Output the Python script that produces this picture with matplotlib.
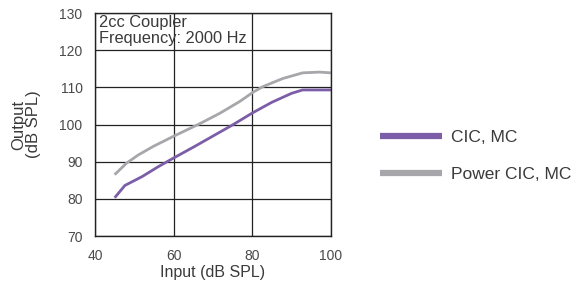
import matplotlib.pyplot as plt

plt.rcParams['font.family'] = ['Liberation Sans', 'DejaVu Sans']

# Input (dB SPL) vs Output (dB SPL)
cic_x = [45, 47.6, 52, 56, 60, 65, 70, 75, 80, 85, 90, 92.8, 96, 100]
cic_y = [80.3, 83.6, 86.0, 88.6, 91.0, 93.9, 96.9, 99.9, 103.1, 106.0, 108.4, 109.3, 109.3, 109.3]
pwr_x = [45, 48, 51, 54.8, 59.9, 66.6, 71.7, 76.8, 80.2, 82.7, 87.8, 92.8, 97, 100]
pwr_y = [86.5, 89.6, 91.8, 94.1, 96.8, 100.2, 103.0, 106.2, 108.7, 110.2, 112.4, 113.9, 114.1, 113.9]
labels = ['CIC, MC', 'Power CIC, MC']
colors = ['#7b5ea7', '#a7a7ab']

fig = plt.figure(figsize=(5.8, 2.86), dpi=100)
ax = fig.add_axes([0.1638, 0.1748, 0.4069, 0.7797])

l1, = ax.plot(cic_x, cic_y, color=colors[0], lw=2, label=labels[0], solid_capstyle='butt')
l2, = ax.plot(pwr_x, pwr_y, color=colors[1], lw=2, label=labels[1], solid_capstyle='butt')

ax.set_xlim(40, 100)
ax.set_ylim(70, 130)
ax.set_xticks([40, 60, 80, 100])
ax.set_yticks([70, 80, 90, 100, 110, 120, 130])
ax.grid(True, color='#222222', lw=0.9)
ax.set_axisbelow(True)
ax.tick_params(axis='y', length=0, labelsize=10, colors='#4a4a4a', pad=9)
ax.tick_params(axis='x', length=0, labelsize=10, colors='#4a4a4a', pad=9)
for s in ax.spines.values():
    s.set_color('#222222')
    s.set_linewidth(1)

ax.set_xlabel('Input (dB SPL)', fontsize=11.5, color='#3a3a3a', labelpad=2)
ax.set_ylabel('Output\n(dB SPL)', fontsize=12, color='#3a3a3a', labelpad=13, linespacing=1.0)

ax.text(0.018, 0.99, '2cc Coupler\nFrequency: 2000 Hz', transform=ax.transAxes,
        ha='left', va='top', fontsize=11.8, color='#3a3a3a', linespacing=1.08)

leg = fig.legend(handles=[l1, l2], labels=labels, loc='upper left',
                 bbox_to_anchor=(0.628, 0.602), frameon=False, fontsize=12.5,
                 handlelength=3.6, labelspacing=1.3, handletextpad=0.52,
                 labelcolor='#3a3a3a')
for h in leg.legend_handles:
    h.set_linewidth(4.5)

fig.savefig('out.png', dpi=100)
